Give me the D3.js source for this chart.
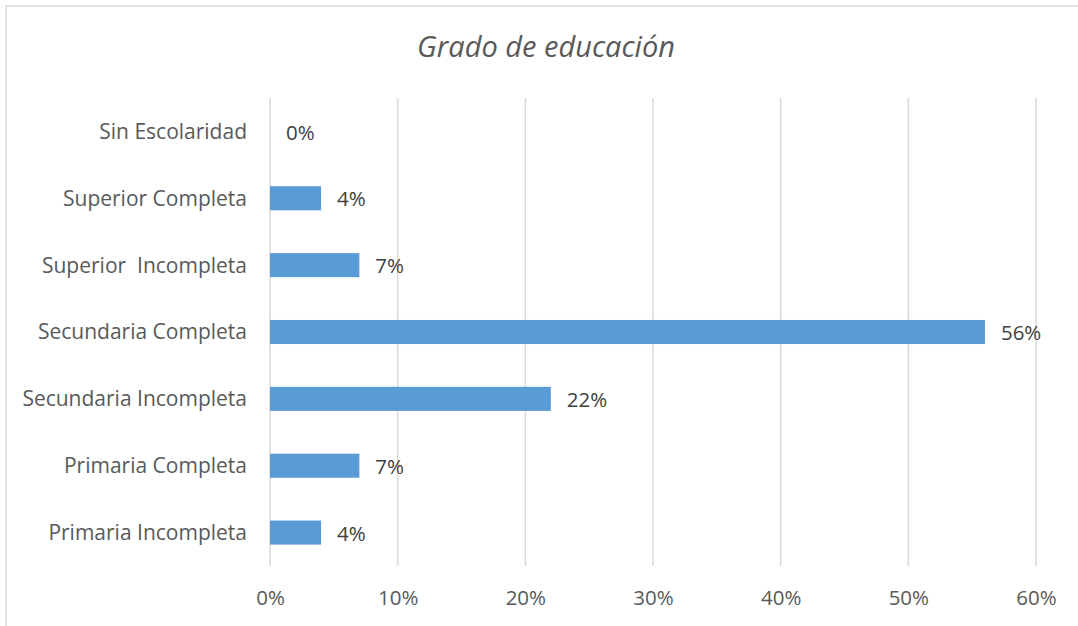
<!DOCTYPE html>
<html>
<head>
<meta charset="utf-8">
<script src="https://cdn.jsdelivr.net/npm/d3@7"></script>
<style>
  body { margin: 0; background: #fff; }
  text { font-family: "Open Sans", sans-serif; white-space: pre; }
</style>
</head>
<body>
<svg width="1078" height="626"></svg>
<script>
var categories = ["Sin Escolaridad", "Superior Completa", "Superior  Incompleta",
                  "Secundaria Completa", "Secundaria Incompleta", "Primaria Completa",
                  "Primaria Incompleta"];
var values = [0, 4, 7, 56, 22, 7, 4];
var ticks = [0, 10, 20, 30, 40, 50, 60];

var svg = d3.select("svg"),
    width = +svg.attr("width"),
    height = +svg.attr("height");

// chart border (clipped by page on right/bottom)
svg.append("rect")
    .attr("x", 6).attr("y", 6)
    .attr("width", width + 10).attr("height", height + 10)
    .attr("fill", "none")
    .attr("stroke", "#d9d9d9")
    .attr("stroke-width", 1.5);

var x = d3.scaleLinear().domain([0, 60]).range([270, 1036]);
var y = d3.scaleBand().domain(categories).range([98, 566]).paddingInner(0.64).paddingOuter(0.32);

// title
svg.append("text")
    .attr("x", 546).attr("y", 57)
    .attr("text-anchor", "middle")
    .style("font-size", "29px")
    .style("font-style", "italic")
    .style("fill", "#595959")
    .text("Grado de educación");

// gridlines
svg.append("g").selectAll("line")
    .data(ticks)
  .enter().append("line")
    .attr("x1", function(d) { return x(d); })
    .attr("x2", function(d) { return x(d); })
    .attr("y1", 98).attr("y2", 566)
    .attr("stroke", "#d9d9d9")
    .attr("stroke-width", 1.5);

// x axis labels
var xAxis = svg.append("g")
    .attr("transform", "translate(0,566)")
    .call(d3.axisBottom(x).tickValues(ticks).tickSize(0).tickPadding(24)
      .tickFormat(function(d) { return d + "%"; }));
xAxis.select(".domain").remove();
xAxis.selectAll("text")
    .style("font-size", "20.5px")
    .style("font-family", "Open Sans, sans-serif")
    .style("fill", "#595959");

// y axis labels
var yAxis = svg.append("g")
    .attr("transform", "translate(270,0)")
    .call(d3.axisLeft(y).tickSize(0).tickPadding(23));
yAxis.select(".domain").remove();
yAxis.selectAll("text")
    .attr("dy", "0.35em")
    .style("font-size", "21px")
    .style("font-family", "Open Sans, sans-serif")
    .style("fill", "#595959");

// bars
svg.append("g").selectAll("rect")
    .data(values)
  .enter().append("rect")
    .attr("x", x(0))
    .attr("y", function(d, i) { return y(categories[i]); })
    .attr("width", function(d) { return x(d) - x(0); })
    .attr("height", y.bandwidth())
    .attr("fill", "#5b9bd5");

// data labels
svg.append("g").selectAll("text")
    .data(values)
  .enter().append("text")
    .attr("x", function(d) { return x(d) + 16; })
    .attr("y", function(d, i) { return y(categories[i]) + y.bandwidth() / 2; })
    .attr("dy", "0.4em")
    .style("font-size", "20.5px")
    .style("fill", "#404040")
    .text(function(d) { return d + "%"; });
</script>
</body>
</html>
